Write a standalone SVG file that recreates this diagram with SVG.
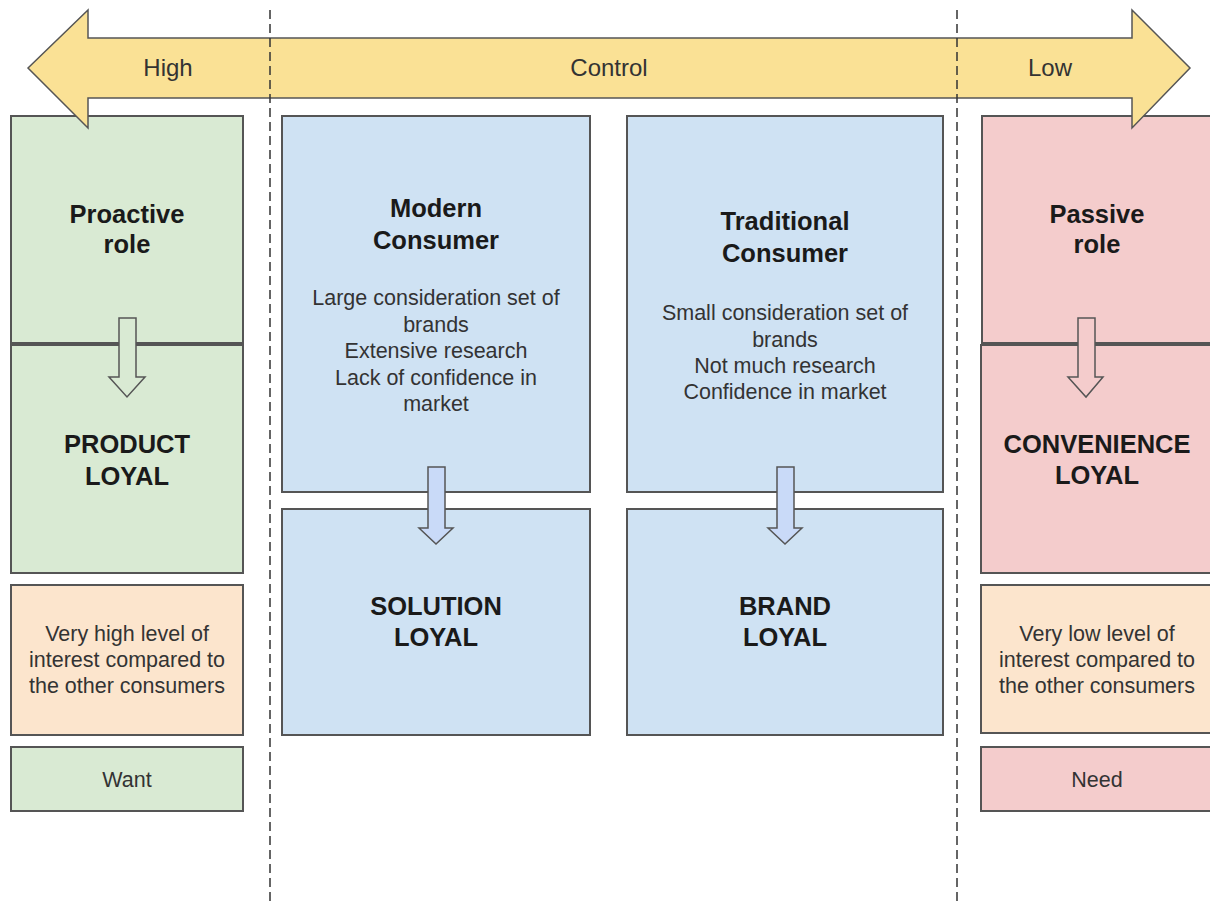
<svg xmlns="http://www.w3.org/2000/svg" width="1210" height="901" viewBox="0 0 1210 901">
  <style>
    .box { stroke: #555555; stroke-width: 2; }
    .green { fill: #d9ead3; }
    .pink { fill: #f4cccc; }
    .blue { fill: #cfe2f3; }
    .peach { fill: #fce5cd; }
    .title { font-family: "Liberation Sans", Arial, sans-serif; font-weight: bold; font-size: 25.5px; fill: #1a1a1a; text-anchor: middle; }
    .body { font-family: "Liberation Sans", Arial, sans-serif; font-size: 21.5px; fill: #333333; text-anchor: middle; }
    .axis { font-family: "Liberation Sans", Arial, sans-serif; font-size: 24px; fill: #333333; text-anchor: middle; }
    .divider { stroke: #333333; stroke-width: 1.5; stroke-dasharray: 9 5; fill: none; }
    .flow { stroke: #555555; stroke-width: 1.5; }
  </style>

  <!-- left column -->
  <g id="proactive-role">
    <rect class="box green" x="11" y="116" width="232" height="227"/>
    <text class="title" x="127" y="223">Proactive</text>
    <text class="title" x="127" y="253">role</text>
  </g>
  <g id="product-loyal">
    <rect class="box green" x="11" y="345" width="232" height="228"/>
    <text class="title" x="127" y="453">PRODUCT</text>
    <text class="title" x="127" y="485">LOYAL</text>
  </g>
  <g id="high-interest">
    <rect class="box peach" x="11" y="585" width="232" height="150"/>
    <text class="body" x="127" y="641">Very high level of</text>
    <text class="body" x="127" y="667">interest compared to</text>
    <text class="body" x="127" y="693">the other consumers</text>
  </g>
  <g id="want">
    <rect class="box green" x="11" y="747" width="232" height="64"/>
    <text class="body" x="127" y="787">Want</text>
  </g>

  <!-- middle columns -->
  <g id="modern-consumer">
    <rect class="box blue" x="282" y="116" width="308" height="376"/>
    <text class="title" x="436" y="217">Modern</text>
    <text class="title" x="436" y="249">Consumer</text>
    <text class="body" x="436" y="305">Large consideration set of</text>
    <text class="body" x="436" y="332">brands</text>
    <text class="body" x="436" y="358">Extensive research</text>
    <text class="body" x="436" y="385">Lack of confidence in</text>
    <text class="body" x="436" y="411">market</text>
  </g>
  <g id="solution-loyal">
    <rect class="box blue" x="282" y="509" width="308" height="226"/>
    <text class="title" x="436" y="615">SOLUTION</text>
    <text class="title" x="436" y="646">LOYAL</text>
  </g>
  <g id="traditional-consumer">
    <rect class="box blue" x="627" y="116" width="316" height="376"/>
    <text class="title" x="785" y="230">Traditional</text>
    <text class="title" x="785" y="262">Consumer</text>
    <text class="body" x="785" y="320">Small consideration set of</text>
    <text class="body" x="785" y="347">brands</text>
    <text class="body" x="785" y="373">Not much research</text>
    <text class="body" x="785" y="399">Confidence in market</text>
  </g>
  <g id="brand-loyal">
    <rect class="box blue" x="627" y="509" width="316" height="226"/>
    <text class="title" x="785" y="615">BRAND</text>
    <text class="title" x="785" y="646">LOYAL</text>
  </g>

  <!-- right column -->
  <g id="passive-role">
    <rect class="box pink" x="982" y="116" width="232" height="227"/>
    <text class="title" x="1097" y="223">Passive</text>
    <text class="title" x="1097" y="253">role</text>
  </g>
  <g id="convenience-loyal">
    <rect class="box pink" x="981" y="345" width="233" height="228"/>
    <text class="title" x="1097" y="453">CONVENIENCE</text>
    <text class="title" x="1097" y="484">LOYAL</text>
  </g>
  <g id="low-interest">
    <rect class="box peach" x="981" y="585" width="233" height="148"/>
    <text class="body" x="1097" y="641">Very low level of</text>
    <text class="body" x="1097" y="667">interest compared to</text>
    <text class="body" x="1097" y="693">the other consumers</text>
  </g>
  <g id="need">
    <rect class="box pink" x="981" y="747" width="233" height="64"/>
    <text class="body" x="1097" y="787">Need</text>
  </g>

  <!-- control axis: double-headed arrow, drawn over the box tops -->
  <g id="control-axis">
    <polygon points="28,68 88,10 88,38 1132,38 1132,10 1190,68 1132,128 1132,98 88,98 88,128" fill="#fae195" stroke="#555555" stroke-width="1.5"/>
    <text class="axis" x="168" y="76">High</text>
    <text class="axis" x="609" y="76">Control</text>
    <text class="axis" x="1050" y="76">Low</text>
  </g>

  <!-- dashed dividers between the control zones -->
  <g id="dividers">
    <line class="divider" x1="270" y1="10" x2="270" y2="901"/>
    <line class="divider" x1="957" y1="10" x2="957" y2="901"/>
  </g>

  <!-- block arrows from role to loyalty type -->
  <g id="connectors">
    <polygon class="flow" fill="#d9ead3" points="119,318 136,318 136,377 145,377 127,397 109,377 119,377"/>
    <polygon class="flow" fill="#c9daf8" points="428,467 445,467 445,528 453,528 436,544 419,528 428,528"/>
    <polygon class="flow" fill="#c9daf8" points="777,467 794,467 794,528 802,528 785,544 768,528 777,528"/>
    <polygon class="flow" fill="#f4cccc" points="1078,318 1095,318 1095,377 1103,377 1086,397 1068,377 1078,377"/>
  </g>
</svg>
